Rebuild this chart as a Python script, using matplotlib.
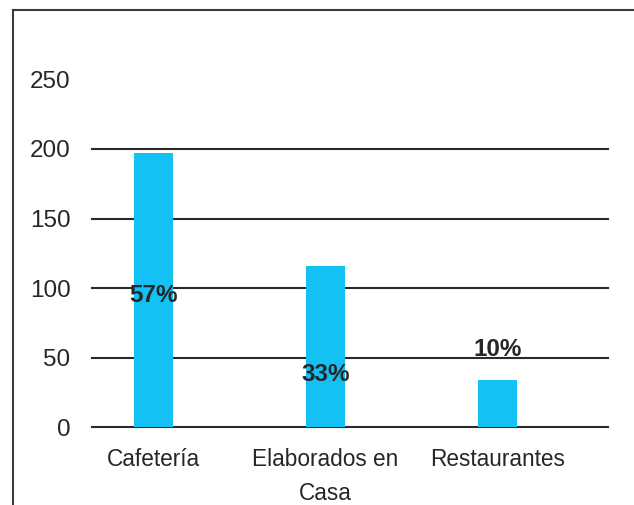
import matplotlib
matplotlib.use("Agg")
import matplotlib.pyplot as plt
from matplotlib.lines import Line2D

categories = ["Cafetería", "Elaborados en\nCasa", "Restaurantes"]
values = [197, 116, 34]
pct_labels = ["57%", "33%", "10%"]
pct_label_y = [95, 38, 56]
yticks = [0, 50, 100, 150, 200, 250]

plt.rcParams['font.family'] = ['Liberation Sans', 'DejaVu Sans']

W, H = 634, 505
fig = plt.figure(figsize=(W / 100, H / 100), dpi=100)
ax = fig.add_axes([92 / W, (H - 427.3) / H, (608 - 92) / W, (427.3 - 79.4) / H])

x = list(range(len(categories)))
ax.bar(x, values, width=0.227, color='#14C1F4', zorder=3)

ax.set_xlim(-0.356, 2.644)
ax.set_ylim(0, 250)
ax.set_yticks(yticks)
ax.set_yticklabels([str(v) for v in yticks], fontsize=17.5, color='#262626')
ax.set_xticks(x)
ax.set_xticklabels(categories, fontsize=16.3, color='#262626', linespacing=1.6)
ax.tick_params(axis='y', length=0, pad=15.5)
ax.tick_params(axis='x', length=0, pad=15)

ax.yaxis.grid(True, color='#2a2a2a', linewidth=1.5, zorder=1)
ax.set_axisbelow(True)
for gl in ax.get_ygridlines():
    gl.set_clip_on(False)
ax.get_ygridlines()[-1].set_visible(False)
for s in ax.spines.values():
    s.set_visible(False)

for xi, lab, ly in zip(x, pct_labels, pct_label_y):
    ax.text(xi, ly, lab, ha='center', va='center', fontsize=17.5,
            fontweight='bold', color='#262626', zorder=4)

# outer border (partially cropped at right and bottom)
fig.add_artist(Line2D([13 / W, 13 / W], [0, 1 - 10 / H], transform=fig.transFigure,
                      color='#3a3a3a', linewidth=1.5))
fig.add_artist(Line2D([13 / W, 1], [1 - 10 / H, 1 - 10 / H], transform=fig.transFigure,
                      color='#3a3a3a', linewidth=1.5))

fig.savefig("out.png", dpi=100)
